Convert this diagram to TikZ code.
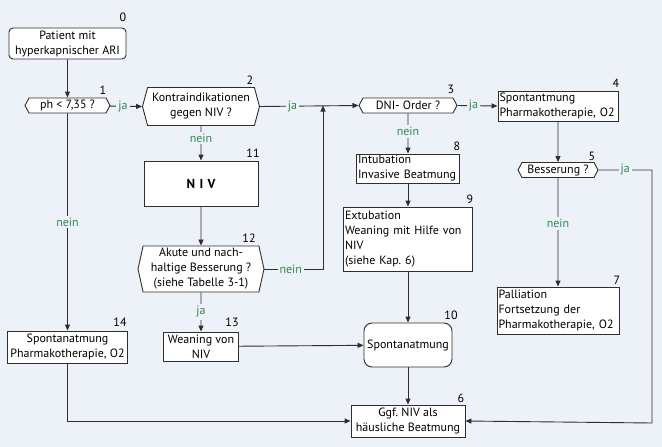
\documentclass[tikz,border=0pt]{standalone}
\usepackage{fontspec}
\setmainfont{PT Sans}
\usetikzlibrary{
    arrows.meta,
    shapes.symbols
}

\definecolor{bgblue}{HTML}{EDF1F8}
\definecolor{yesgreen}{HTML}{2E8A4C}
\definecolor{linegray}{HTML}{2E2E2E}

\hyphenpenalty=10000
\exhyphenpenalty=10000
\frenchspacing

\tikzset{
    box/.style={draw=linegray, fill=white, line width=0.9pt, inner xsep=3pt, inner ysep=1pt, align=center},
    lbox/.style={box, inner xsep=1.5pt, align=left},
    ask/.style={box, shape=signal, signal to=east and west},
    num/.style={inner sep=0pt},
    yn/.style={fill=bgblue, text=yesgreen, inner sep=2pt},
    flow/.style={draw=linegray, line width=0.9pt, -{Triangle[length=6pt,width=5pt]}},
    link/.style={draw=linegray, line width=0.9pt}
}

\begin{document}
\begin{tikzpicture}[x=1pt, y=-1pt, font=\fontsize{12}{15}\selectfont]

% Background
\fill[bgblue] (0,0) rectangle (662,447);

% Left column
\node[box, rounded corners=4pt, minimum width=117pt, minimum height=31pt] (patient) at (67.5,43.5) {Patient mit\\hyperkapnischer ARI};
\node[num] (patient-nr) at (123,17) {0};
\node[ask, signal pointer angle=124, minimum width=85pt, minimum height=15pt] (ph) at (67.5,105.5) {ph < 7,35 ?};
\node[num] (ph-nr) at (103,90) {1};
\node[box, inner xsep=1pt, minimum width=120pt, minimum height=32pt] (spont14) at (67.5,347) {Spontanatmung\\Pharmakotherapie, O2};
\node[num] (spont14-nr) at (120,322) {14};

% NIV column
\node[ask, signal pointer angle=150, minimum width=117pt, minimum height=38pt] (kontra) at (201,106.5) {Kontraindikationen\\gegen NIV ?};
\node[num] (kontra-nr) at (250,80) {2};
\node[box, minimum width=114pt, minimum height=45pt, font=\fontsize{13}{15}\selectfont\bfseries] (niv) at (201,183.5) {N\,\,I\,\,V};
\node[num] (niv-nr) at (253,153) {11};
\node[ask, signal pointer angle=155, minimum width=126pt, minimum height=46pt] (akut) at (201,269) {Akute und nach-\\haltige Besserung ?\\(siehe Tabelle 3-1)};
\node[num] (akut-nr) at (249,238) {12};
\node[box, minimum width=75pt, minimum height=29pt] (weaning) at (201,346.5) {Weaning von\\NIV};
\node[num] (weaning-nr) at (232,322) {13};

% DNI column
\node[ask, signal pointer angle=124, minimum width=98pt, minimum height=15pt] (dni) at (408,105.5) {DNI- Order ?};
\node[num] (dni-nr) at (451,89) {3};
\node[lbox, text width=100pt, minimum height=29pt] (intub) at (408,168.5) {Intubation\\Invasive Beatmung};
\node[num] (intub-nr) at (457,146) {8};
\node[lbox, text width=126pt, minimum height=64pt] (extub) at (408,239) {Extubation\\Weaning mit Hilfe von\\NIV\\(siehe Kap. 6)};
\node[num] (extub-nr) at (470,199) {9};
\node[box, rounded corners=8pt, minimum width=88pt, minimum height=44pt] (spont10) at (408,345) {Spontanatmung};
\node[num] (spont10-nr) at (451,315) {10};
\node[box, minimum width=114pt, minimum height=32pt] (heim) at (408,421) {Ggf. NIV als\\häusliche Beatmung};
\node[num] (heim-nr) at (461,398) {6};

% Right column
\node[lbox, text width=117pt, minimum height=30pt] (spont4) at (558,106) {Spontantmung\\Pharmakotherapie, O2};
\node[num] (spont4-nr) at (616,83) {4};
\node[ask, signal pointer angle=124, minimum width=80pt, minimum height=15pt] (besser) at (558,170) {Besserung ?};
\node[num] (besser-nr) at (592,156) {5};
\node[lbox, text width=119pt, minimum height=47pt] (pall) at (558,310.5) {Palliation\\Fortsetzung der\\Pharmakotherapie, O2};
\node[num] (pall-nr) at (617,280) {7};

% Corner points
\coordinate (join) at (323,105.5);
\coordinate (rgt) at (652,423);

% Connectors
\draw[flow] (patient) -- (ph);
\draw[flow] (ph) -- node[yn, pos=0.4] {ja} (kontra.west);
\draw[flow] (ph) -- node[yn] {nein} (spont14);
\draw[flow] (kontra.east) -- node[yn, pos=0.33] {ja} (dni.west);
\draw[flow] (kontra) -- node[yn, pos=0.35] {nein} (niv);
\draw[flow] (niv) -- (akut);
\draw[flow] (akut.east) -- node[yn, pos=0.45] {nein} (akut.east -| join) -- (join);
\draw[flow] (akut) -- node[yn] {ja} (weaning);
\draw[flow] (weaning) -- (spont10);
\draw[flow] (dni.east) -- node[yn, pos=0.4] {ja} (spont4.west);
\draw[flow] (dni) -- node[yn, pos=0.45] {nein} (intub);
\draw[flow] (intub) -- (extub);
\draw[flow] (extub) -- (spont10);
\draw[flow] (spont10) -- (heim);
\draw[flow] (spont4) -- (besser);
\draw[flow] (besser) -- node[yn, pos=0.42] {nein} (pall);
\draw[flow] (besser.east) -- node[yn] {ja} (besser.east -| rgt) -- (rgt) -- (heim.east);
\draw[flow] (spont14) -- (spont14.south |- heim.west) -- (heim.west);

\end{tikzpicture}
\end{document}
